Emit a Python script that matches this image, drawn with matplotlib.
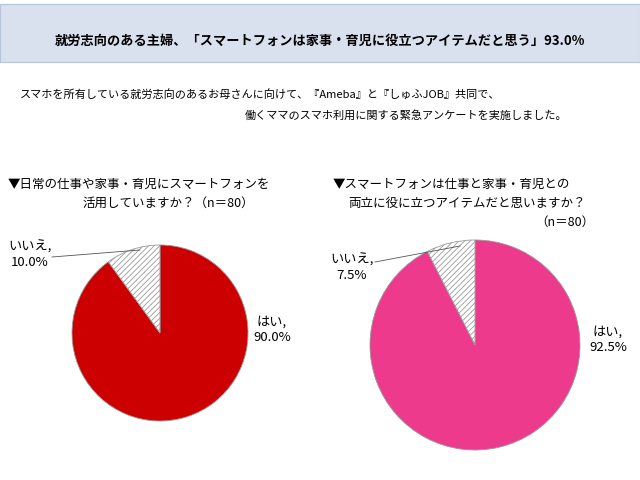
import matplotlib.pyplot as plt
from matplotlib.patches import Rectangle

plt.rcParams["font.family"] = "Noto Sans CJK JP"
plt.rcParams["hatch.color"] = "#8a3f8f"
plt.rcParams["hatch.linewidth"] = 0.6

labels = ["はい", "いいえ"]
left_values = [90.0, 10.0]
right_values = [92.5, 7.5]
left_color = "#cc0000"
right_color = "#ee3a8c"

W, H = 640, 480
fig = plt.figure(figsize=(6.4, 4.8), dpi=100)

# title band
fig.patches.append(Rectangle((0, 1 - 62 / H), 1, 62 / H - 4 / H, transform=fig.transFigure,
                             facecolor="#d9e1ef", edgecolor="#b8c4d8", linewidth=0.8))
fig.text(0.5, 1 - 41 / H, "就労志向のある主婦、「スマートフォンは家事・育児に役立つアイテムだと思う」93.0%",
         ha="center", va="center", fontsize=9.5, fontweight="bold")
fig.text(20 / W, 1 - 95 / H, "スマホを所有している就労志向のあるお母さんに向けて、『Ameba』と『しゅふJOB』共同で、",
         ha="left", va="center", fontsize=8)
fig.text(245 / W, 1 - 115 / H, "働くママのスマホ利用に関する緊急アンケートを実施しました。",
         ha="left", va="center", fontsize=8)

fig.text(8 / W, 1 - 184 / H, "▼日常の仕事や家事・育児にスマートフォンを", fontsize=9, va="center")
fig.text(82 / W, 1 - 203 / H, "活用していますか？（n＝80）", fontsize=9, va="center")
fig.text(333 / W, 1 - 184 / H, "▼スマートフォンは仕事と家事・育児との", fontsize=9, va="center")
fig.text(348 / W, 1 - 203 / H, "両立に役に立つアイテムだと思いますか？", fontsize=9, va="center")
fig.text(535 / W, 1 - 222 / H, "（n＝80）", fontsize=9, va="center")


def draw_pie(cx, cy, r, values, color):
    ax = fig.add_axes([(cx - r) / W, 1 - (cy + r) / H, 2 * r / W, 2 * r / H])
    wedges, _ = ax.pie(values, startangle=90, counterclock=False,
                       colors=[color, "white"],
                       wedgeprops=dict(edgecolor="#999999", linewidth=0.6))
    wedges[1].set_hatch("//////")
    ax.set_xlim(-1, 1)
    ax.set_ylim(-1, 1)
    ax.set_aspect("equal")
    return ax


draw_pie(160, 333, 88, left_values, left_color)
draw_pie(475, 345, 105, right_values, right_color)

fig.text(272 / W, 1 - 330 / H, f"{labels[0]},\n{left_values[0]:.1f}%", fontsize=9.5, ha="center", va="center")
fig.text(30 / W, 1 - 255 / H, f"{labels[1]},\n{left_values[1]:.1f}%", fontsize=9.5, ha="center", va="center")
fig.text(608 / W, 1 - 340 / H, f"{labels[0]},\n{right_values[0]:.1f}%", fontsize=9.5, ha="center", va="center")
fig.text(352 / W, 1 - 268 / H, f"{labels[1]},\n{right_values[1]:.1f}%", fontsize=9.5, ha="center", va="center")
fig.add_artist(plt.Line2D([52 / W, 140 / W], [1 - 257 / H, 1 - 250 / H], color="#555555", linewidth=0.6))
fig.add_artist(plt.Line2D([375 / W, 460 / W], [1 - 262 / H, 1 - 246 / H], color="#555555", linewidth=0.6))

fig.savefig("out.png", dpi=100)
